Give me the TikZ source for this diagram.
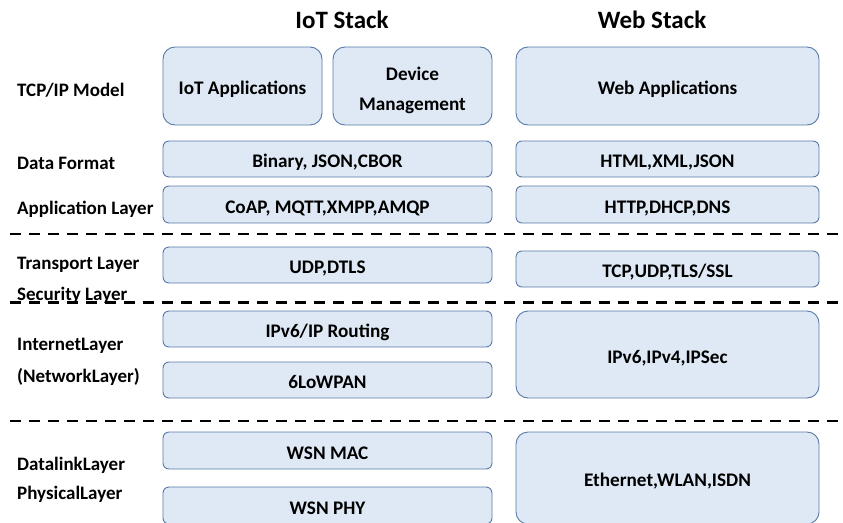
\documentclass[tikz,border=0pt]{standalone}
\usepackage{fontspec}
\setmainfont{Carlito}
\definecolor{boxfill}{RGB}{222,233,245}
\definecolor{boxline}{RGB}{88,122,166}
\begin{document}
\begin{tikzpicture}[x=1pt,y=-1pt,
  font=\bfseries,
  boxbase/.style={draw=boxline, fill=boxfill, line width=0.9pt, rounded corners=6pt,
    inner sep=0pt, align=center, font=\fontsize{19.2}{30}\bfseries},
  layer/.style={boxbase, text height=17.4pt, text depth=0pt},
  bigbox/.style={layer, rounded corners=12pt},
  twoline/.style={boxbase, rounded corners=12pt},
  lbl/.style={anchor=west, inner sep=0pt, font=\fontsize{19}{22}\bfseries},
  title/.style={inner sep=0pt, font=\fontsize{25}{28}\bfseries},
  sep/.style={line width=2.4pt, dash pattern=on 11pt off 8pt}]
\useasboundingbox (0,0) rectangle (843,522);
\clip (0,0) rectangle (843,522);

% column headings
\node[title] (iotstack) at (342,20) {IoT Stack};
\node[title] (webstack) at (652,20) {Web Stack};

% IoT stack boxes
\node[bigbox, minimum width=159pt, minimum height=78pt] (iotapp) at (242.5,86) {IoT Applications};
\node[twoline, minimum width=159pt, minimum height=78pt] (devmgmt) at (412.5,86) {\rule{0pt}{21.9pt}Device\\Management};
\node[layer, minimum width=329pt, minimum height=36pt] (iotfmt) at (327.5,159) {Binary, JSON,CBOR};
\node[layer, minimum width=329pt, minimum height=37pt] (iotappl) at (327.5,204.5) {CoAP, MQTT,XMPP,AMQP};
\node[layer, minimum width=329pt, minimum height=36pt] (iottrans) at (327.5,265) {UDP,DTLS};
\node[layer, minimum width=329pt, minimum height=36pt] (iotroute) at (327.5,329) {IPv6/IP Routing};
\node[layer, minimum width=329pt, minimum height=36pt] (iotlowpan) at (327.5,380) {6LoWPAN};
\node[layer, minimum width=329pt, minimum height=37pt] (iotmac) at (327.5,450.5) {WSN MAC};
\node[layer, minimum width=329pt, minimum height=37pt] (iotphy) at (327.5,505.5) {WSN PHY};

% Web stack boxes
\node[bigbox, minimum width=303pt, minimum height=78pt] (webapp) at (667.5,86) {Web Applications};
\node[layer, minimum width=303pt, minimum height=36pt] (webfmt) at (667.5,159) {HTML,XML,JSON};
\node[layer, minimum width=303pt, minimum height=37pt] (webappl) at (667.5,204.5) {HTTP,DHCP,DNS};
\node[layer, minimum width=303pt, minimum height=36pt] (webtrans) at (667.5,269) {TCP,UDP,TLS/SSL};
\node[bigbox, minimum width=303pt, minimum height=87pt] (webnet) at (667.5,354.5) {IPv6,IPv4,IPSec};
\node[bigbox, minimum width=303pt, minimum height=92pt] (weblink) at (667.5,478) {Ethernet,WLAN,ISDN};

% layer names
\node[lbl] (ltcpip) at (17,90) {TCP/IP Model};
\node[lbl] (lfmt) at (17,163) {Data Format};
\node[lbl] (lappl) at (17,209) {Application Layer};
\node[lbl] (ltrans) at (17,265) {Transport Layer};
\node[lbl] (lsec) at (17,295) {Security Layer};
\node[lbl] (linet) at (17,346) {InternetLayer};
\node[lbl] (lnet) at (17,377) {(NetworkLayer)};
\node[lbl] (llink) at (17,465) {DatalinkLayer};
\node[lbl] (lphy) at (17,494) {PhysicalLayer};

% dashed separators
\coordinate (s1a) at (10,234);  \coordinate (s1b) at (843,234);
\coordinate (s2a) at (10,302.5);\coordinate (s2b) at (843,302.5);
\coordinate (s3a) at (10,421);  \coordinate (s3b) at (843,421);
\draw[sep] (s1a) -- (s1b);
\draw[sep] (s2a) -- (s2b);
\draw[sep] (s3a) -- (s3b);
\end{tikzpicture}
\end{document}
